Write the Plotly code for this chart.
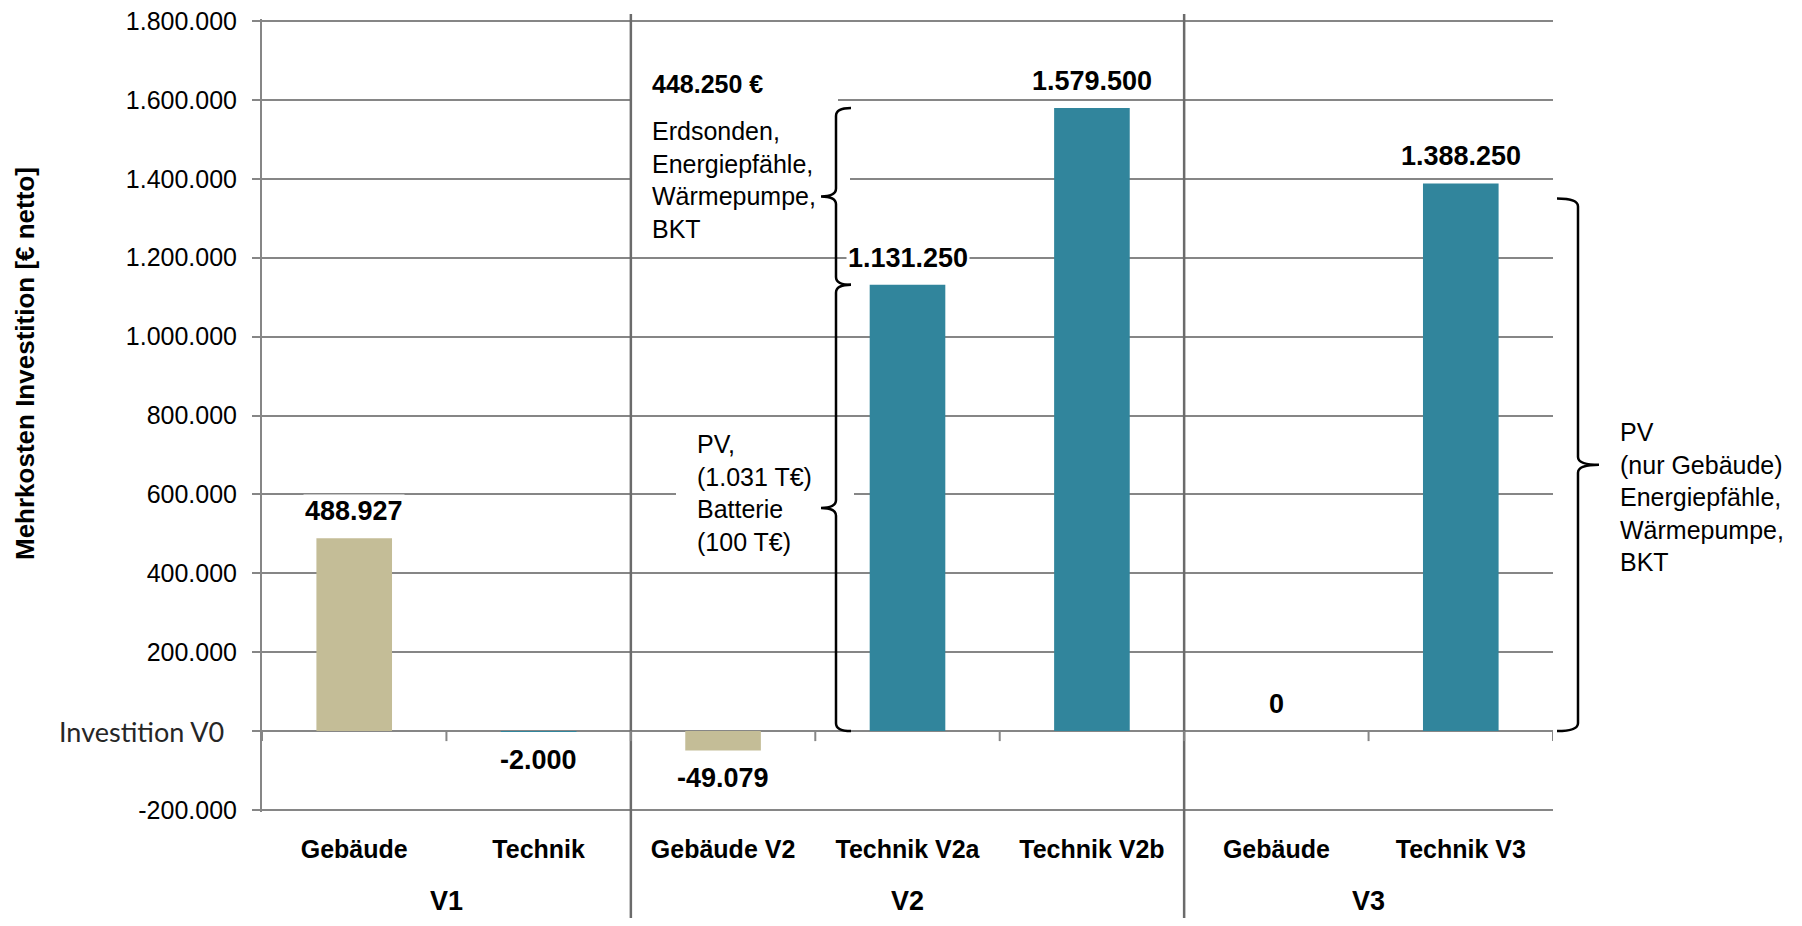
import plotly.graph_objects as go

# Mehrkosten Investition je Variante (€ netto), bezogen auf Investition V0
groups = ["V1", "V1", "V2", "V2", "V2", "V3", "V3"]
categories = ["Gebäude", "Technik", "Gebäude V2", "Technik V2a", "Technik V2b", "Gebäude", "Technik V3"]
values = [488927, -2000, -49079, 1131250, 1579500, 0, 1388250]

y_ticks = [-200000, 0, 200000, 400000, 600000, 800000, 1000000, 1200000, 1400000, 1600000, 1800000]
y_ticklabels = ["-200.000", "", "200.000", "400.000", "600.000", "800.000",
                "1.000.000", "1.200.000", "1.400.000", "1.600.000", "1.800.000"]

# geschweifte Klammern (von, bis) in €
braces_v2 = [(0, 1131250), (1131250, 1579500)]
brace_v3 = (0, 1350000)

TAN = "#C4BD97"
TEAL = "#31859C"
GRID = "#868686"
FONT = "Arial, Liberation Sans, sans-serif"

# figure geometry (page is offset by the 8px body margin)
# plotly drops gridlines lying exactly on the plot edge, so pad the range by 2px
PAD = 2
W, H = 1786, 910
L, T, R, B = 254, 13 - PAD, 241, 108 - PAD
PW, PH = W - L - R, H - T - B
y_lo, y_hi = y_ticks[0], y_ticks[-1]
per_px = (y_hi - y_lo) / (PH - 2 * PAD)
y_range = [y_lo - PAD * per_px, y_hi + PAD * per_px]


def px(x):
    # page pixel x -> paper
    return (x - 8 - L) / PW


def py(y):
    # page pixel y -> paper
    return (H - B - (y - 8)) / PH


def fmt(v):
    return f"{v:,}".replace(",", ".")


def brace_path(y0, y1, xv, xh, xt, r=20000):
    ym = (y0 + y1) / 2
    return (f"M {xh},{y1} Q {xv},{y1} {xv},{y1 - r} "
            f"L {xv},{ym + r} Q {xv},{ym} {xt},{ym} "
            f"Q {xv},{ym} {xv},{ym - r} "
            f"L {xv},{y0 + r} Q {xv},{y0} {xh},{y0}")


xs = list(range(len(categories)))
colors = [TAN if c.startswith("Gebäude") else TEAL for c in categories]

fig = go.Figure()
fig.add_trace(go.Bar(
    x=xs,
    y=values,
    width=0.41,
    marker=dict(color=colors, line=dict(width=0)),
    hoverinfo="skip",
    showlegend=False
))

# white text boxes that interrupt the gridlines (drawn before braces)
for x0, y0, x1, y1 in [(631, 58, 838, 110), (631, 112, 850, 250), (676, 430, 854, 550)]:
    fig.add_shape(type="rect", xref="paper", yref="paper",
                  x0=px(x0), x1=px(x1), y0=py(y1), y1=py(y0),
                  fillcolor="white", line=dict(width=0))

# data labels
for x, v in zip(xs, values):
    fig.add_annotation(
        x=x, y=v, xref="x", yref="y",
        text=f"<b>{fmt(v)}</b>",
        showarrow=False,
        yshift=27 if v >= 0 else -28,
        bgcolor="white", borderpad=1,
        font=dict(family=FONT, size=27, color="black")
    )

# group labels V1 / V2 / V3
for g in dict.fromkeys(groups):
    idx = [i for i, gg in enumerate(groups) if gg == g]
    fig.add_annotation(
        x=sum(idx) / len(idx), y=py(901), xref="x", yref="paper",
        yanchor="middle",
        text=f"<b>{g}</b>", showarrow=False,
        font=dict(family=FONT, size=27, color="black")
    )

# vertical separators between groups
for i in range(len(groups) - 1):
    if groups[i] != groups[i + 1]:
        fig.add_shape(type="line", xref="x", yref="paper",
                      x0=i + 0.5, x1=i + 0.5, y0=-0.16, y1=py(14),
                      line=dict(color="#6b6b6b", width=2.5))

# small category tick marks on the zero line
for b in range(len(categories) + 1):
    fig.add_shape(type="line", xref="x", yref="y",
                  ysizemode="pixel", yanchor=0,
                  x0=b - 0.5, x1=b - 0.5, y0=0, y1=-10,
                  line=dict(color=GRID, width=2))

# braces
for y0, y1 in braces_v2:
    fig.add_shape(type="path", xref="paper", yref="y",
                  path=brace_path(y0, y1, px(836), px(851), px(821)),
                  line=dict(color="black", width=2.5))
fig.add_shape(type="path", xref="paper", yref="y",
              path=brace_path(brace_v3[0], brace_v3[1], px(1578), px(1557), px(1599)),
              line=dict(color="black", width=2.5))

# explanatory texts
fig.add_annotation(
    x=px(650), y=py(84), xref="paper", yref="paper",
    xanchor="left", yanchor="middle", align="left",
    text="<b>448.250 €</b>", showarrow=False,
    font=dict(family=FONT, size=25, color="black")
)
fig.add_annotation(
    x=px(650), y=py(180), xref="paper", yref="paper",
    xanchor="left", yanchor="middle", align="left",
    text="Erdsonden,<br>Energiepfähle,<br>Wärmepumpe,<br>BKT", showarrow=False,
    font=dict(family=FONT, size=25, color="black")
)
fig.add_annotation(
    x=px(695), y=py(493), xref="paper", yref="paper",
    xanchor="left", yanchor="middle", align="left",
    text="PV,<br>(1.031 T€)<br>Batterie<br>(100 T€)", showarrow=False,
    font=dict(family=FONT, size=25, color="black")
)
fig.add_annotation(
    x=px(1618), y=py(497), xref="paper", yref="paper",
    xanchor="left", yanchor="middle", align="left",
    text="PV<br>(nur Gebäude)<br>Energiepfähle,<br>Wärmepumpe,<br>BKT", showarrow=False,
    font=dict(family=FONT, size=25, color="black")
)

# zero line label and y axis title
fig.add_annotation(
    x=px(226), y=0, xref="paper", yref="y",
    xanchor="right", yanchor="middle",
    text="Investition V0", showarrow=False,
    font=dict(family="Lato, sans-serif", size=27, color="#262626")
)
fig.add_annotation(
    x=px(25), y=py(364), xref="paper", yref="paper",
    xanchor="center", yanchor="middle",
    text="<b>Mehrkosten Investition [€ netto]</b>", textangle=-90,
    showarrow=False,
    font=dict(family=FONT, size=26, color="black")
)

fig.update_layout(
    width=W, height=H,
    margin=dict(l=L, r=R, t=T, b=B, autoexpand=False),
    paper_bgcolor="white",
    plot_bgcolor="white",
    showlegend=False,
    xaxis=dict(
        range=[-0.5, len(categories) - 0.5],
        tickvals=xs, ticktext=categories,
        showgrid=False, zeroline=False, showline=False, ticks="",
        automargin=False,
        ticklabelstandoff=22 - PAD,
        tickfont=dict(family=FONT, size=25, color="black", weight="bold")
    ),
    yaxis=dict(
        range=y_range,
        tickvals=y_ticks, ticktext=y_ticklabels,
        showgrid=True, gridcolor=GRID, gridwidth=2,
        zeroline=False,
        showline=True, linecolor=GRID, linewidth=2,
        ticks="outside", ticklen=8, tickcolor=GRID, tickwidth=2,
        automargin=False,
        ticklabeloverflow="allow",
        ticklabelstandoff=10,
        tickfont=dict(family=FONT, size=25, color="black")
    )
)

fig.write_html("out.html")
